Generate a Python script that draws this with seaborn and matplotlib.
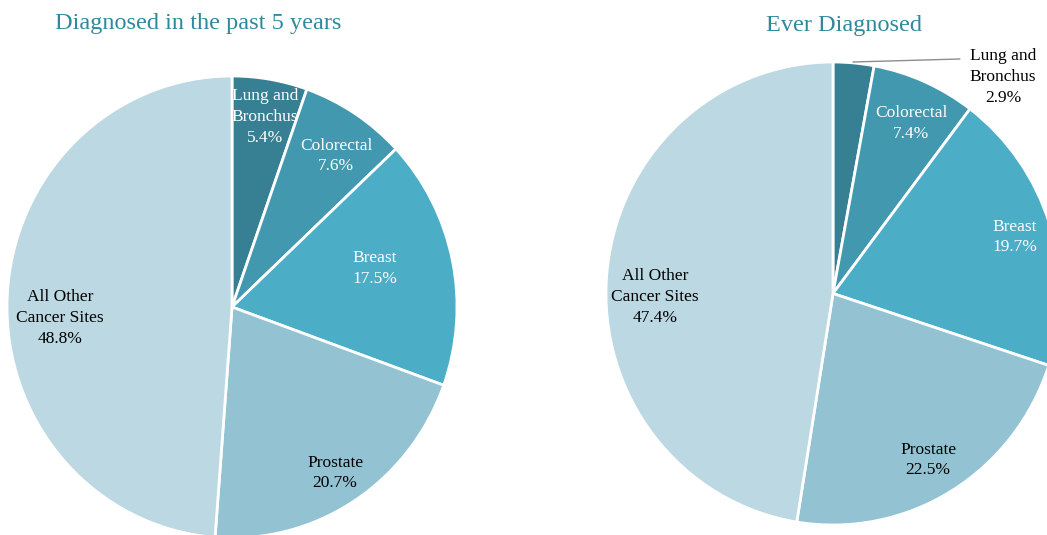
import matplotlib
matplotlib.use("Agg")
import matplotlib.pyplot as plt
import seaborn as sns

sns.set_style("white")
plt.rcParams["font.family"] = ["Liberation Serif", "DejaVu Serif"]

# Data
sites = ["Lung and\nBronchus", "Colorectal", "Breast", "Prostate", "All Other\nCancer Sites"]
past5_pct = [5.4, 7.6, 17.5, 20.7, 48.8]
ever_pct = [2.9, 7.4, 19.7, 22.5, 47.4]
titles = ["Diagnosed in the past 5 years", "Ever Diagnosed"]

colors = ["#377f93", "#4298ae", "#4badc6", "#93c3d3", "#bcd8e3"]
text_colors_left = ["white", "white", "white", "black", "black"]
text_colors_right = ["black", "white", "white", "black", "black"]

W, H = 1047, 535
fig = plt.figure(figsize=(W / 100, H / 100), dpi=100)


def pie_axes(cx, cy, rx, ry):
    # axes spanning the whole figure, pie unit radius maps to rx/ry pixels
    ax = fig.add_axes([0, 0, 1, 1])
    return ax, (-cx / rx, (W - cx) / rx), ((cy - H) / ry, cy / ry)


# left pie
ax1, xl, yl = pie_axes(232, 307, 225, 231)
ax1.pie(past5_pct, colors=colors, startangle=90, counterclock=False,
        wedgeprops=dict(edgecolor="white", linewidth=2))
ax1.set_aspect("auto")
ax1.set_xlim(xl)
ax1.set_ylim(yl)
ax1.axis("off")
pos1 = [(0.147, 0.823), (0.462, 0.654), (0.636, 0.165), (0.458, -0.719), (-0.764, -0.048)]
for name, v, (x, y), c in zip(sites, past5_pct, pos1, text_colors_left):
    ax1.text(x, y, f"{name}\n{v:.1f}%", ha="center", va="center", color=c,
             fontsize=12.5, linespacing=1.4)

# right pie
ax2, xl, yl = pie_axes(833, 293.5, 227, 231.5)
ax2.pie(ever_pct, colors=colors, startangle=90, counterclock=False,
        wedgeprops=dict(edgecolor="white", linewidth=2))
ax2.set_aspect("auto")
ax2.set_xlim(xl)
ax2.set_ylim(yl)
ax2.axis("off")
pos2 = [(0.749, 0.935), (0.344, 0.736), (0.802, 0.244), (0.419, -0.719), (-0.784, -0.015)]
for name, v, (x, y), c in zip(sites, ever_pct, pos2, text_colors_right):
    ax2.text(x, y, f"{name}\n{v:.1f}%", ha="center", va="center", color=c,
             fontsize=12.5, linespacing=1.4)
ax2.plot([0.088, 0.559], [1.0, 1.013], color="#8c8c8c", linewidth=1)

# titles
fig.text(198 / W, 1 - 24 / H, titles[0], ha="center", va="center",
         color="#2e8a9b", fontsize=17.5)
fig.text(844 / W, 1 - 25 / H, titles[1], ha="center", va="center",
         color="#2e8a9b", fontsize=17.5)

fig.savefig("out.png", dpi=100)
